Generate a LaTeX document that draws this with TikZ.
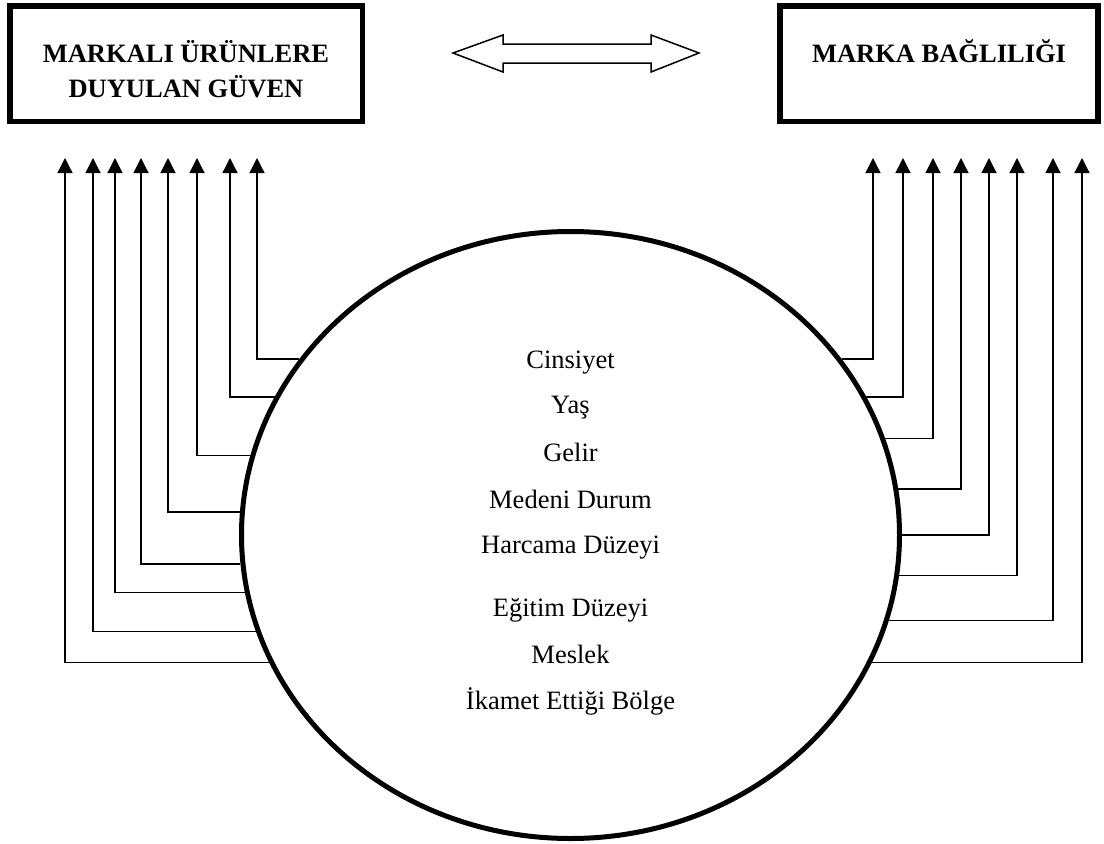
\documentclass[tikz,border=0pt]{standalone}
\usepackage{fontspec}
\setmainfont{Liberation Serif}
\usetikzlibrary{positioning,arrows.meta,calc,shapes.geometric}
\tikzset{
    on grid,
    node distance=46pt,
    headbox/.style = {
        draw,
        shape=rectangle,
        minimum height=115.5pt,
        inner sep=0pt,
        line width=5.5pt
    },
    headtext/.style = {
        font=\fontsize{26.5}{35}\selectfont\bfseries,
        align=center,
        inner sep=0pt
    },
    oval/.style = {
        draw,
        shape=ellipse,
        minimum width=658pt,
        minimum height=607pt,
        inner sep=0pt,
        line width=5pt
    },
    factor/.style = {
        font=\fontsize{26.5}{30}\selectfont,
        text height=18pt,
        text depth=6pt,
        inner sep=0pt
    },
    link/.style = {
        line width=1.3pt
    },
    >={Triangle[length=15pt,width=15pt]},
}

\begin{document}
\begin{tikzpicture}[x=1pt, y=-1pt]
        \useasboundingbox (0,0) rectangle (1104,844);

        \node[headbox, minimum width=352.5pt] (trust) at (186,63.5) {};
        \node[headbox, minimum width=318pt] (loyal) at (939,63.5) {};
        % base is the last line here
        \node[headtext, anchor=base] (trusttext) at ($(trust.north)+(0,94)$) {MARKALI ÜRÜNLERE\\DUYULAN GÜVEN};
        \node[headtext, anchor=base] (loyaltext) at ($(loyal.north)+(0,59)$) {MARKA BAĞLILIĞI};

        % two way arrow between the boxes
        \draw[line width=1.5pt, line join=miter] (453,53) -- (503,35) -- (503,44) -- (651,44) -- (651,35)
            -- (699,53) -- (651,72) -- (651,63) -- (503,63) -- (503,72) -- cycle;

        \node[oval] (profil) at (570.5,535) {};

        \node[factor] (gender) at (570.5,362) {Cinsiyet};
        \node[factor, below of=gender, node distance=45pt] (age) {Yaş};
        \node[factor, below of=age, node distance=48pt] (income) {Gelir};
        \node[factor, below of=income, node distance=47pt] (marital) {Medeni Durum};
        \node[factor, below of=marital, node distance=45pt] (spending) {Harcama Düzeyi};
        \node[factor, below of=spending, node distance=63pt] (education) {Eğitim Düzeyi};
        \node[factor, below of=education, node distance=47pt] (job) {Meslek};
        \node[factor, below of=job, node distance=46pt] (region) {İkamet Ettiği Bölge};

        \coordinate (lt1) at (257,158);
        \coordinate (lt2) at (230,158);
        \coordinate (lt3) at (197,158);
        \coordinate (lt4) at (168,158);
        \coordinate (lt5) at (141,158);
        \coordinate (lt6) at (115,158);
        \coordinate (lt7) at (93,158);
        \coordinate (lt8) at (65,158);

        \coordinate (rt1) at (873,158);
        \coordinate (rt2) at (903,158);
        \coordinate (rt3) at (933,158);
        \coordinate (rt4) at (961,158);
        \coordinate (rt5) at (989,158);
        \coordinate (rt6) at (1017,158);
        \coordinate (rt7) at (1053,158);
        \coordinate (rt8) at (1082,158);

        \path[draw, link, ->] (profil.147) -| (lt1);
        \path[draw, link, ->] (profil.155) -| (lt2);
        \path[draw, link, ->] (profil.166) -| (lt3);
        \path[draw, link, ->] (profil.176) -| (lt4);
        \path[draw, link, ->] (profil.185) -| (lt5);
        \path[draw, link, ->] (profil.190) -| (lt6);
        \path[draw, link, ->] (profil.197) -| (lt7);
        \path[draw, link, ->] (profil.203) -| (lt8);

        \path[draw, link, ->] (profil.33) -| (rt1);
        \path[draw, link, ->] (profil.25) -| (rt2);
        \path[draw, link, ->] (profil.17) -| (rt3);
        \path[draw, link, ->] (profil.8) -| (rt4);
        \path[draw, link, ->] (profil.0) -| (rt5);
        \path[draw, link, ->] (profil.-7) -| (rt6);
        \path[draw, link, ->] (profil.-15) -| (rt7);
        \path[draw, link, ->] (profil.-23) -| (rt8);
    \end{tikzpicture}
\end{document}
